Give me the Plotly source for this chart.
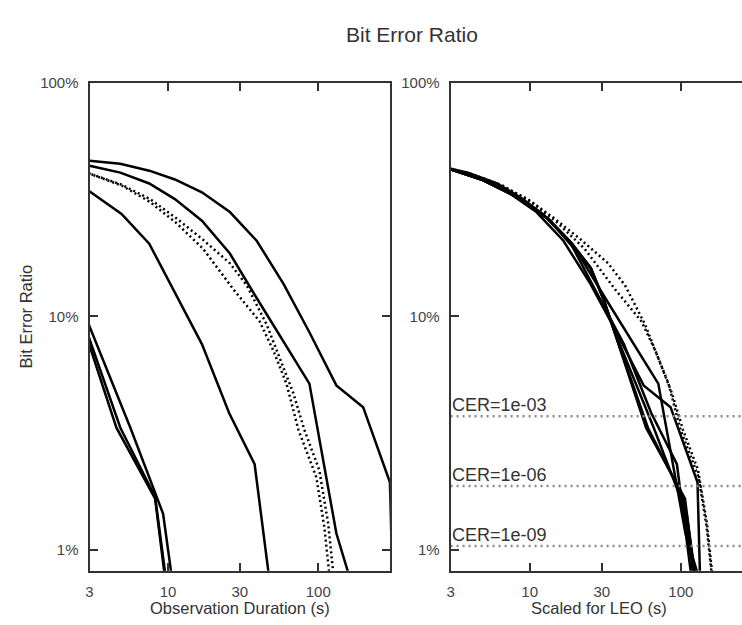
import math
import plotly.graph_objects as go

# ---- data (x in seconds, y in percent) ----
A_x = [3, 4.8, 7.5, 11.1, 16.8, 25.8, 38.9, 58.7, 87.3, 132, 199, 300, 320]
A_y = [46.4, 45.1, 42.1, 38.6, 34.0, 28.0, 21.1, 13.8, 8.56, 5.07, 4.09, 1.95, 0.4]

B_x = [3, 4.81, 7.49, 11.1, 16.8, 25.8, 38.9, 58.7, 87.3, 132, 199]
B_y = [44.2, 41.3, 37.1, 31.8, 25.7, 18.6, 12.0, 7.85, 5.16, 1.18, 0.49]

C_x = [1.2, 1.92, 3, 4.9, 7.49, 11.1, 16.8, 25.5, 37.7, 58.7]
C_y = [42.7, 38.6, 34.3, 27.5, 20.5, 12.7, 7.62, 3.86, 2.33, 0.252]

D_x = [0.254, 0.407, 0.681, 1.12, 1.59, 2.15, 2.62, 3, 5.61, 9.27, 11.6]
D_y = [42.7, 38.6, 32.7, 26.2, 20.7, 16.1, 11.8, 9.07, 3.34, 1.43, 0.5]

E_x = [0.238, 0.381, 0.637, 1.05, 1.49, 2.02, 2.45, 3, 4.81, 8.2, 9.56, 10.8]
E_y = [42.7, 38.6, 32.7, 26.2, 20.7, 16.1, 11.8, 8.0, 3.34, 1.69, 0.80, 0.44]

F_x = [0.231, 0.369, 0.618, 1.02, 1.45, 1.95, 2.38, 3, 4.53, 8.2, 9.4, 10.6]
F_y = [42.7, 38.6, 32.7, 26.2, 20.7, 16.1, 11.8, 7.55, 3.34, 1.66, 0.80, 0.44]

G_x = [2.3, 3, 4.89, 7.6, 11.3, 17.1, 25.8, 33.4, 45.3, 55.2, 68.3, 80.8, 101.6, 116.4, 125.8]
G_y = [42.9, 40.9, 36.7, 31.8, 26.4, 21.3, 16.9, 13.6, 9.25, 6.71, 4.69, 3.27, 2.20, 1.30, 0.80]

H_x = [2.2, 3, 4.89, 7.6, 11.3, 17.1, 27.4, 40.7, 50.4, 61.4, 73.8, 97.1, 109.7, 118.2]
H_y = [42.9, 40.9, 36.4, 30.9, 25.2, 19.5, 13.0, 9.53, 7.11, 5.16, 3.27, 2.05, 1.26, 0.80]

series = [(A_x, A_y), (B_x, B_y), (C_x, C_y), (D_x, D_y), (E_x, E_y), (F_x, F_y), (G_x, G_y), (H_x, H_y)]
dotted = [False, False, False, False, False, False, True, True]
# per-series LEO scaling of the duration axis (right panel)
leo_scale = [0.43, 0.813, 2.5, 11.8, 12.6, 13.0, 1.28, 1.35]

cer_levels = [3.74, 1.88, 1.04]
cer_labels = ["CER=1e-03", "CER=1e-06", "CER=1e-09"]

x_ticks = [3, 10, 30, 100]
y_ticks = [1, 10, 100]
y_ticktext = ["1%", "10%", "100%"]

W, H = 742, 625
FONT = "Liberation Sans, Arial, sans-serif"
AX = "#333333"
TXT = "#444444"

fig = go.Figure()
for (xs, ys), dot in zip(series, dotted):
    fig.add_trace(go.Scatter(x=xs, y=ys, mode="lines", xaxis="x", yaxis="y",
                             line=dict(color="black", width=2.5, dash="2px,3px" if dot else "solid"),
                             hoverinfo="skip"))
for (xs, ys), dot, k in zip(series, dotted, leo_scale):
    fig.add_trace(go.Scatter(x=[v * k for v in xs], y=ys, mode="lines", xaxis="x2", yaxis="y2",
                             line=dict(color="black", width=2.5, dash="2px,3px" if dot else "solid"),
                             hoverinfo="skip"))
for lvl in cer_levels:
    fig.add_trace(go.Scatter(x=[3, 254], y=[lvl, lvl], mode="lines", xaxis="x2", yaxis="y2",
                             line=dict(color="#8a8a8a", width=2.5, dash="2px,4px"), hoverinfo="skip"))

def px_x(p):
    return p / W

def px_y(p):
    return 1 - p / H

axis_common = dict(type="log", showline=True, linecolor=AX, linewidth=2, ticks="inside",
                   ticklen=8, tickwidth=1.5, tickcolor=AX, showgrid=False, zeroline=False,
                   tickfont=dict(family=FONT, size=15, color=TXT))

fig.update_layout(
    width=W, height=H, margin=dict(l=0, r=0, t=0, b=0),
    paper_bgcolor="white", plot_bgcolor="white", showlegend=False,
    xaxis=dict(**axis_common, domain=[px_x(86), px_x(388)], range=[math.log10(3), math.log10(300)],
               tickvals=x_ticks, ticktext=[str(v) for v in x_ticks], mirror="ticks",
               anchor="y", ticklabelstandoff=6),
    yaxis=dict(**axis_common, domain=[px_y(570), px_y(75)], range=[math.log10(0.815), 2],
               tickvals=y_ticks, ticktext=y_ticktext, mirror="ticks", anchor="x",
               ticklabelstandoff=6),
    xaxis2=dict(**axis_common, domain=[px_x(449), 1.0], range=[math.log10(3), math.log10(254)],
                tickvals=x_ticks, ticktext=[str(v) for v in x_ticks], mirror="ticks",
                anchor="y2", ticklabelstandoff=6),
    yaxis2=dict(**axis_common, domain=[px_y(570), px_y(75)], range=[math.log10(0.815), 2],
                tickvals=y_ticks, ticktext=y_ticktext, mirror=False, anchor="x2",
                ticklabelstandoff=6),
)

ann = [
    dict(text="Bit Error Ratio", x=px_x(410), y=px_y(26), xref="paper", yref="paper",
         showarrow=False, font=dict(family=FONT, size=21, color="#333333"),
         xanchor="center", yanchor="middle"),
    dict(text="Observation Duration (s)", x=px_x(237), y=px_y(608), xref="paper", yref="paper",
         showarrow=False, font=dict(family=FONT, size=16.5, color="#333333"),
         xanchor="center", yanchor="middle"),
    dict(text="Scaled for LEO (s)", x=px_x(598), y=px_y(608), xref="paper", yref="paper",
         showarrow=False, font=dict(family=FONT, size=16.5, color="#333333"),
         xanchor="center", yanchor="middle"),
    dict(text="Bit Error Ratio", x=px_x(22), y=px_y(312), xref="paper", yref="paper",
         showarrow=False, textangle=-90, font=dict(family=FONT, size=16.5, color="#333333"),
         xanchor="center", yanchor="middle"),
]
for lvl, lab in zip(cer_levels, cer_labels):
    ann.append(dict(text=lab, x=math.log10(3), y=math.log10(lvl), xref="x2", yref="y2",
                    showarrow=False, xanchor="left", yanchor="bottom", xshift=-1, yshift=-1,
                    font=dict(family=FONT, size=18, color="#333333")))
fig.update_layout(annotations=ann)

fig.write_html("out.html", config={"displayModeBar": False},
               post_script="document.body.style.margin='0px';document.body.style.overflow='hidden';")
